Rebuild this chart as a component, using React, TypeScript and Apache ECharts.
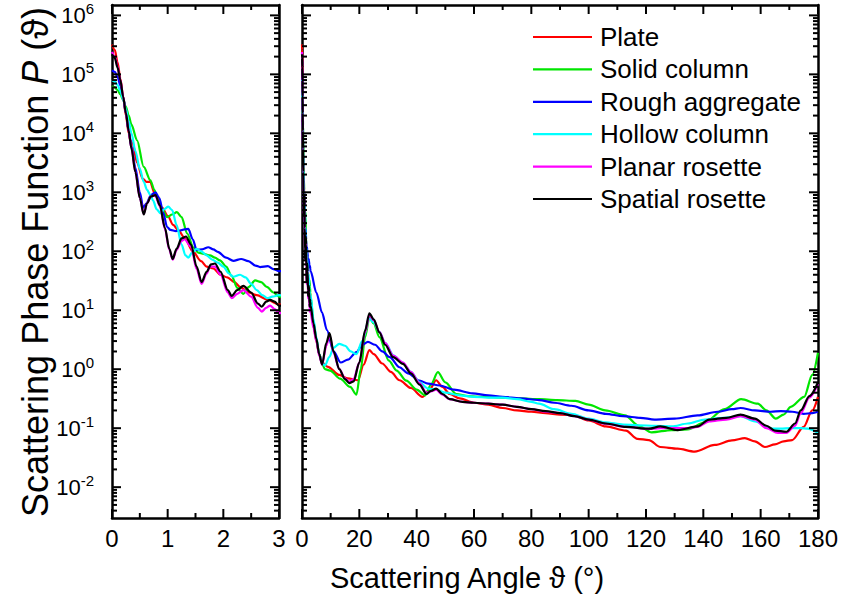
import React, { useEffect, useRef } from 'react';
import * as echarts from 'echarts';

const SERIES_NAMES = ['Plate', 'Solid column', 'Rough aggregate', 'Hollow column', 'Planar rosette', 'Spatial rosette'];
const COLORS = ['#ff0000', '#00e600', '#0000ff', '#00ffff', '#ff00ff', '#000000'];

const Y_MIN_VALUE = 0.003;
const Y_MAX_VALUE = 1.5e6;
const MAJOR_EXPONENTS = [-2, -1, 0, 1, 2, 3, 4, 5, 6];
const MINOR_MULTIPLIERS = [2, 3, 4, 5, 6, 7, 8, 9];
const LEFT_X = { min: 0, max: 3, interval: 1 };
const RIGHT_X = { min: 0, max: 180, interval: 20 };
const LEFT_X_MAJOR = [0, 1, 2, 3];
const LEFT_X_MINOR = [0.5, 1.5, 2.5];
const RIGHT_X_MAJOR = [0, 20, 40, 60, 80, 100, 120, 140, 160, 180];
const RIGHT_X_MINOR = [10, 30, 50, 70, 90, 110, 130, 150, 170];

// [scattering angle (deg), P]
const plate: number[][] = [
  [0, 3.2e5], [0.05, 2.6e5], [0.1, 1.6e5], [0.15, 8.5e4], [0.2, 4.2e4], [0.25, 2.0e4], [0.3, 1.0e4],
  [0.33, 7.5e3], [0.37, 6.8e3], [0.45, 3.2e3], [0.55, 1.7e3], [0.62, 1.5e3], [0.68, 1.5e3], [0.78, 900],
  [0.9, 550], [1.0, 400], [1.1, 280], [1.2, 220], [1.31, 166], [1.45, 100], [1.6, 68], [1.7, 55],
  [1.82, 51], [1.95, 40], [2.07, 36], [2.2, 30], [2.3, 25], [2.45, 20], [2.6, 18], [2.8, 15], [3, 12.5],
  [4, 5.5], [5, 3], [6, 1.8], [7, 1.3], [9, 1.1], [13, 0.8], [16, 0.7], [19.5, 0.65], [21.5, 1.2],
  [23.5, 2.1], [25, 1.8], [28, 1.25], [31, 0.9], [34, 0.65], [38, 0.48], [42, 0.34], [44.5, 0.45],
  [46.8, 0.65], [49, 0.5], [51.5, 0.38], [55, 0.32], [60, 0.27], [65, 0.25], [70, 0.22], [75, 0.2],
  [80, 0.19], [85, 0.18], [90, 0.17], [95, 0.165], [100, 0.135], [106, 0.107], [113, 0.091], [117, 0.066],
  [121, 0.063], [125, 0.048], [131, 0.045], [137, 0.04], [144, 0.052], [150, 0.062], [154.5, 0.068],
  [158, 0.06], [161.5, 0.048], [165, 0.053], [168, 0.06], [171, 0.063], [175, 0.105], [178, 0.2], [180, 0.34],
];

const solidColumn: number[][] = [
  [0, 6.3e4], [0.05, 6e4], [0.1, 5.4e4], [0.15, 4.6e4], [0.2, 3.7e4], [0.25, 2.8e4], [0.3, 2.0e4],
  [0.35, 1.4e4], [0.45, 7.6e3], [0.57, 2.7e3], [0.69, 1.6e3], [0.76, 1.1e3], [0.83, 720], [0.9, 520],
  [0.99, 380], [1.08, 420], [1.165, 460], [1.25, 380], [1.35, 200], [1.46, 117], [1.55, 95], [1.65, 90],
  [1.76, 85], [1.85, 78], [1.94, 70], [2.05, 55], [2.15, 38], [2.25, 24], [2.36, 19], [2.46, 25],
  [2.57, 32], [2.68, 30], [2.78, 25], [2.9, 20], [3, 17],
  [4, 6.5], [5, 3.2], [6, 1.8], [7, 1.25], [8, 1.0], [9.8, 0.95], [13.3, 0.69], [16.8, 0.5], [19, 0.37],
  [20.5, 1.0], [22, 3.5], [23.5, 7.5], [25, 6.0], [27, 3.5], [30.3, 1.4], [33, 0.95], [36.4, 0.64],
  [40, 0.45], [43, 0.36], [45, 0.55], [47.4, 0.89], [50, 0.6], [53.8, 0.38], [58, 0.35], [63, 0.34],
  [70, 0.33], [76, 0.32], [82.7, 0.31], [89, 0.3], [95.4, 0.29], [100, 0.25], [105.8, 0.2], [112.7, 0.165],
  [117.4, 0.11], [122, 0.085], [128.9, 0.093], [134.6, 0.095], [140.5, 0.126], [147.4, 0.21], [153.2, 0.31],
  [159, 0.26], [162, 0.2], [165.3, 0.145], [168, 0.17], [170.5, 0.23], [175.2, 0.34], [178, 0.8], [180, 1.9],
];

const roughAggregate: number[][] = [
  [0, 1.17e5], [0.05, 1.1e5], [0.1, 9e4], [0.15, 6.5e4], [0.2, 4e4], [0.25, 2.2e4], [0.3, 1.1e4],
  [0.35, 6e3], [0.42, 2.6e3], [0.5, 1.0e3], [0.56, 550], [0.62, 650], [0.7, 900], [0.78, 1000],
  [0.85, 800], [0.92, 450], [0.99, 258], [1.05, 230], [1.15, 220], [1.22, 225], [1.3, 235], [1.37, 240],
  [1.45, 160], [1.52, 105], [1.62, 108], [1.73, 117], [1.82, 108], [1.9, 98], [2.05, 78], [2.18, 69],
  [2.32, 74], [2.45, 68], [2.58, 57], [2.66, 54], [2.8, 56], [2.9, 50], [3, 46],
  [5, 20], [7, 9.1], [8.7, 4.6], [11, 2.0], [13.5, 1.3], [16, 1.45], [19, 1.95], [21, 2.6], [23, 2.9],
  [25.5, 2.6], [28, 2.0], [30.6, 1.6], [34, 1.08], [37, 0.85], [41, 0.64], [44, 0.57], [48, 0.53],
  [53, 0.45], [59.5, 0.39], [65, 0.36], [70, 0.34], [76, 0.32], [82.7, 0.3], [88, 0.27], [94, 0.24],
  [100, 0.2], [106, 0.175], [112, 0.16], [118, 0.15], [123, 0.14], [130, 0.145], [138, 0.165], [145, 0.19],
  [150, 0.21], [153, 0.22], [158, 0.2], [163.5, 0.19], [167, 0.195], [171, 0.19], [175, 0.175], [178, 0.18],
  [180, 0.19],
];

const hollowColumn: number[][] = [
  [0, 8e4], [0.05, 7.6e4], [0.1, 6.6e4], [0.15, 5.2e4], [0.2, 3.8e4], [0.25, 2.6e4], [0.3, 1.6e4],
  [0.35, 1.0e4], [0.42, 5e3], [0.5, 2.5e3], [0.57, 1.5e3], [0.63, 1.1e3], [0.69, 900], [0.74, 720],
  [0.8, 520], [0.87, 440], [0.94, 520], [1.01, 570], [1.08, 500], [1.16, 280], [1.25, 130], [1.32, 85],
  [1.37, 78], [1.44, 95], [1.52, 110], [1.6, 100], [1.7, 85], [1.8, 72], [1.9, 64], [2.0, 55], [2.1, 42],
  [2.18, 37], [2.3, 40], [2.4, 36], [2.5, 28], [2.6, 22], [2.7, 18], [2.79, 16], [2.88, 17], [3, 18],
  [4, 7], [5, 3.5], [6, 1.8], [7, 1.3], [8, 1.15], [9.5, 1.6], [11, 2.3], [13, 2.7], [15, 2.5], [17, 2.0],
  [19, 1.8], [21, 3.0], [23.5, 7.2], [25, 6.2], [27, 4.3], [29, 2.8], [32, 1.7], [35, 1.3], [38, 0.9],
  [41, 0.6], [44, 0.47], [47, 0.45], [50, 0.4], [55, 0.36], [60, 0.34], [65, 0.33], [70, 0.33], [75, 0.31],
  [80, 0.28], [82.7, 0.26], [88, 0.21], [94, 0.175], [100, 0.145], [105.8, 0.126], [112, 0.115],
  [117.4, 0.112], [123, 0.11], [129, 0.107], [134.6, 0.12], [140.5, 0.14], [147, 0.15], [153, 0.16],
  [158, 0.13], [163.6, 0.098], [167, 0.098], [170.5, 0.1], [174, 0.1], [176.3, 0.098], [180, 0.083],
];

const planarRosette: number[][] = [
  [0, 2.4e5], [0.05, 2.0e5], [0.1, 1.35e5], [0.15, 8e4], [0.2, 4.2e4], [0.25, 2.2e4], [0.3, 1.1e4],
  [0.35, 5.5e3], [0.42, 2.2e3], [0.5, 800], [0.57, 430], [0.63, 650], [0.7, 850], [0.78, 880], [0.86, 580],
  [0.95, 240], [1.03, 105], [1.09, 72], [1.16, 105], [1.25, 150], [1.3, 160], [1.42, 120], [1.52, 50],
  [1.61, 28], [1.7, 42], [1.76, 55], [1.85, 55], [1.95, 40], [2.08, 20], [2.15, 16], [2.25, 19],
  [2.36, 22], [2.5, 17], [2.62, 11], [2.69, 9.5], [2.77, 11], [2.84, 12], [2.92, 10.5], [3, 9],
  [4, 5], [5, 3], [6, 1.7], [7, 1.2], [8.5, 2.5], [9.6, 3.8], [11, 1.9], [13, 1.0], [15, 0.7], [16.5, 0.62],
  [18, 0.68], [20, 1.3], [22, 4.2], [23.5, 8.3], [25, 6.8], [27, 4.3], [29, 2.8], [31.8, 1.7], [35.2, 1.3],
  [38, 0.9], [41, 0.58], [43.4, 0.4], [45, 0.42], [46.8, 0.45], [49, 0.37], [51.5, 0.31], [56, 0.28],
  [60, 0.27], [65, 0.26], [70, 0.25], [75, 0.23], [80, 0.21], [85, 0.19], [90, 0.18], [95, 0.16],
  [100, 0.14], [106, 0.118], [113, 0.105], [121, 0.097], [125, 0.1], [131, 0.1], [134.6, 0.1], [138, 0.105],
  [142, 0.13], [148, 0.14], [153, 0.16], [158, 0.14], [162, 0.1], [166, 0.083], [169, 0.083], [172, 0.11],
  [174, 0.18], [177, 0.33], [180, 0.56],
];

const spatialRosette: number[][] = [
  [0, 2.2e5], [0.05, 1.9e5], [0.1, 1.3e5], [0.15, 8e4], [0.2, 4.2e4], [0.25, 2.2e4], [0.3, 1.1e4],
  [0.35, 5.5e3], [0.42, 2.2e3], [0.5, 800], [0.57, 420], [0.63, 650], [0.7, 850], [0.78, 900], [0.86, 600],
  [0.95, 250], [1.03, 110], [1.09, 74], [1.16, 110], [1.25, 165], [1.33, 178], [1.42, 130], [1.52, 55],
  [1.61, 30], [1.7, 45], [1.78, 60], [1.85, 62], [1.95, 45], [2.08, 22], [2.15, 17.5], [2.25, 22],
  [2.36, 26], [2.5, 20], [2.62, 13], [2.69, 11.5], [2.77, 14], [2.84, 15], [2.92, 14], [3, 12],
  [4, 6], [5, 3.3], [6, 1.8], [7, 1.2], [8.5, 2.8], [9.6, 4.1], [11, 2.0], [13, 1.0], [15, 0.68],
  [16.5, 0.58], [18, 0.62], [20, 1.3], [22, 4.5], [23.5, 8.9], [25, 7], [27, 4.2], [29, 2.6], [31.8, 1.6],
  [35.2, 1.23], [38, 0.85], [41, 0.55], [43.4, 0.38], [45, 0.43], [46.8, 0.47], [49, 0.38], [51.5, 0.31],
  [56, 0.28], [60, 0.27], [65, 0.26], [70, 0.25], [75, 0.23], [80, 0.21], [85, 0.195], [90, 0.18],
  [95, 0.16], [100, 0.14], [106, 0.12], [113, 0.105], [121, 0.098], [125, 0.107], [131, 0.093],
  [138, 0.107], [142, 0.14], [148, 0.15], [153, 0.17], [158, 0.145], [162, 0.11], [165, 0.091],
  [169, 0.087], [172, 0.12], [174, 0.2], [177, 0.35], [180, 0.6],
];

const SERIES_DATA = [plate, solidColumn, roughAggregate, hollowColumn, planarRosette, spatialRosette];

const FONT = '"Liberation Sans", Arial, Helvetica, sans-serif';
const MAJOR_LEN = 9;
const MINOR_LEN = 5;
const TICK_W = 2;

export default function App() {
  const ref = useRef<HTMLDivElement>(null);

  useEffect(() => {
    if (!ref.current) return;
    const chart = echarts.init(ref.current, null, { renderer: 'svg' });

    const yMin = Math.log10(Y_MIN_VALUE);
    const yMax = Math.log10(Y_MAX_VALUE);
    const minorExps: number[] = [];
    for (let n = -3; n <= 6; n++) {
      MINOR_MULTIPLIERS.forEach((k) => {
        const v = Math.log10(k * Math.pow(10, n));
        if (v > yMin && v < yMax) minorExps.push(v);
      });
    }

    const grids = [
      { left: 112, top: 5, width: 167, height: 513 },
      { left: 302, top: 5, width: 518, height: 513 },
    ];

    const xAx = (gridIndex: number, position: string, cfg: any, labels: boolean) => ({
      type: 'value',
      gridIndex,
      position,
      min: cfg.min,
      max: cfg.max,
      interval: cfg.interval,
      axisLine: { show: true, onZero: false, lineStyle: { color: '#000', width: 2.5 } },
      axisTick: { show: false },
      minorTick: { show: false },
      axisLabel: labels
        ? { show: true, color: '#000', fontSize: 24, fontFamily: FONT, margin: 8 }
        : { show: false },
      splitLine: { show: false },
    });

    const yAx = (gridIndex: number, position: string, labels: boolean) => ({
      type: 'value',
      gridIndex,
      position,
      min: yMin,
      max: yMax,
      axisLine: { show: true, onZero: false, lineStyle: { color: '#000', width: 2.5 } },
      axisTick: { show: false },
      axisLabel: labels
        ? {
            show: true,
            customValues: MAJOR_EXPONENTS,
            margin: 18,
            formatter: (v: number) => `{b|10}{e|${Math.round(v)}}`,
            rich: {
              b: { fontSize: 22, fontFamily: FONT, color: '#000' },
              e: { fontSize: 15, fontFamily: FONT, color: '#000', padding: [0, 0, 14, 0] },
            },
          }
        : { show: false },
      splitLine: { show: false },
    });

    const series: any[] = [];
    SERIES_DATA.forEach((d, i) => {
      const data = d.map(([x, y]) => [x, Math.log10(y)]);
      [0, 1].forEach((g) => {
        series.push({
          type: 'line',
          name: SERIES_NAMES[i],
          xAxisIndex: g === 0 ? 0 : 2,
          yAxisIndex: g === 0 ? 0 : 2,
          data,
          symbol: 'none',
          smooth: 0.3,
          smoothMonotone: 'x',
          clip: true,
          lineStyle: { color: COLORS[i], width: 2.2 },
          itemStyle: { color: COLORS[i] },
          z: 2 + i,
        });
      });
    });

    // Inward tick marks on all four sides: rectangular scatter symbols placed on the axes' own scales.
    const tickScatter = (axisIdx: number, data: number[][], size: number[], offset: number[]) => ({
      type: 'scatter',
      xAxisIndex: axisIdx,
      yAxisIndex: axisIdx,
      silent: true,
      clip: false,
      z: 30,
      symbol: 'rect',
      symbolSize: size,
      symbolOffset: offset,
      itemStyle: { color: '#000', opacity: 1 },
      emphasis: { disabled: true },
      data,
    });
    const addTicks = (axisIdx: number, xExt: number[], xMajor: number[], xMinor: number[]) => {
      [
        [MAJOR_EXPONENTS, MAJOR_LEN],
        [minorExps, MINOR_LEN],
      ].forEach(([vals, len]: any) => {
        series.push(tickScatter(axisIdx, vals.map((v: number) => [xExt[0], v]), [len, TICK_W], [len / 2, 0]));
        series.push(tickScatter(axisIdx, vals.map((v: number) => [xExt[1], v]), [len, TICK_W], [-len / 2, 0]));
      });
      [
        [xMajor, MAJOR_LEN],
        [xMinor, MINOR_LEN],
      ].forEach(([vals, len]: any) => {
        series.push(tickScatter(axisIdx, vals.map((v: number) => [v, yMin]), [TICK_W, len], [0, -len / 2]));
        series.push(tickScatter(axisIdx, vals.map((v: number) => [v, yMax]), [TICK_W, len], [0, len / 2]));
      });
    };
    addTicks(0, [LEFT_X.min, LEFT_X.max], LEFT_X_MAJOR, LEFT_X_MINOR);
    addTicks(2, [RIGHT_X.min, RIGHT_X.max], RIGHT_X_MAJOR, RIGHT_X_MINOR);

    chart.setOption({
      animation: false,
      backgroundColor: '#fff',
      grid: grids,
      xAxis: [
        xAx(0, 'bottom', LEFT_X, true),
        xAx(0, 'top', LEFT_X, false),
        xAx(1, 'bottom', RIGHT_X, true),
        xAx(1, 'top', RIGHT_X, false),
      ],
      yAxis: [
        yAx(0, 'left', true),
        yAx(0, 'right', false),
        yAx(1, 'left', false),
        yAx(1, 'right', false),
      ],
      legend: {
        show: true,
        orient: 'vertical',
        left: 528,
        top: 19,
        icon: 'rect',
        itemWidth: 59,
        itemHeight: 2.2,
        itemGap: 6.4,
        data: SERIES_NAMES,
        textStyle: { fontSize: 26, fontFamily: FONT, color: '#000', lineHeight: 26, padding: [0, 0, 0, 3] },
      },
      graphic: [
        {
          id: 'ytitle',
          type: 'text',
          x: 35,
          y: 262,
          rotation: Math.PI / 2,
          style: {
            text: 'Scattering Phase Function {i|P} (ϑ)',
            font: `36px ${FONT}`,
            fill: '#000',
            align: 'center',
            verticalAlign: 'middle',
            rich: {
              i: { fontSize: 36, fontFamily: FONT, fontStyle: 'italic', fill: '#000' },
            },
          },
        },
        {
          id: 'xtitle',
          type: 'text',
          x: 467,
          y: 578,
          style: {
            text: 'Scattering Angle ϑ (°)',
            font: `29px ${FONT}`,
            fill: '#000',
            align: 'center',
            verticalAlign: 'middle',
          },
        },
      ],
      series,
    });

    return () => chart.dispose();
  }, []);

  return (
    <div
      ref={ref}
      style={{ position: 'absolute', left: 0, top: 0, width: 841, height: 598, background: '#fff' }}
    />
  );
}
